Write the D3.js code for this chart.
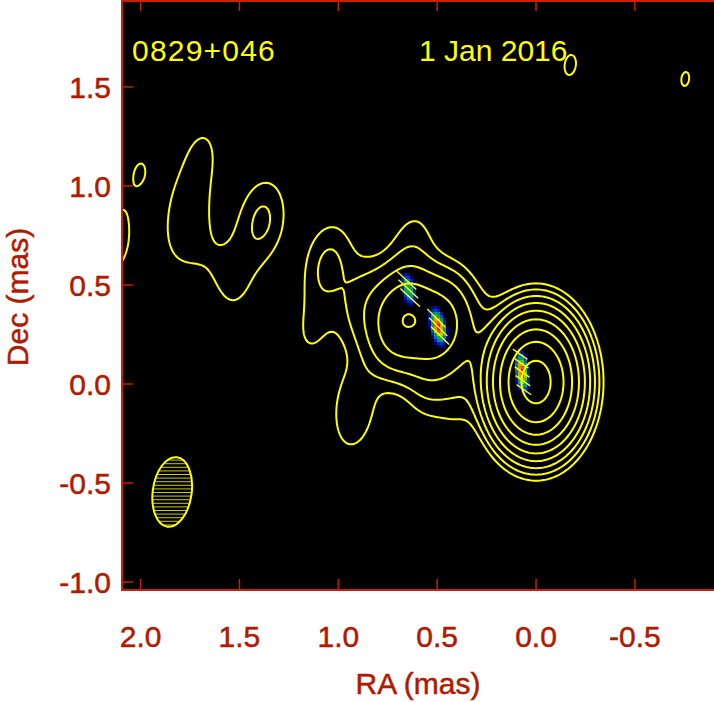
<!DOCTYPE html>
<html>
<head>
<meta charset="utf-8">
<script src="https://cdn.jsdelivr.net/npm/d3@7/dist/d3.min.js"></script>
<style>
  body { margin: 0; background: #fff; }
  svg { display: block; }
  text { font-family: "Liberation Sans", Arial, Helvetica, sans-serif; }
</style>
</head>
<body>
<svg id="chart" width="714" height="702"></svg>
<script>
// ---- data ----
const sourceName = "0829+046";
const epochLabel = "1 Jan 2016";
const xTicks = [2.0, 1.5, 1.0, 0.5, 0.0, -0.5];
const yTicks = [1.5, 1.0, 0.5, 0.0, -0.5, -1.0];

// contour levels (relative units, doubling)
const levels = [1, 2, 4, 8, 16, 32, 64, 128, 256];

// core (RA mas, Dec mas, peak, sigma major / minor in mas)
const coreRA = 0.0, coreDec = 0.010, corePeak = 336, coreSigMaj = 0.146, coreSigMin = 0.100;

// jet + field components, beam-convolved (RA mas, Dec mas, peak)
const compRA   = [0.7375, 0.6566, 0.5554, 0.4542, 0.3075, 0.5352, 0.3834,
                  1.0511, 0.8791, 0.6262, 1.1371, 0.9145, 0.9246,
                  1.6884, 1.7491, 1.7896, 1.6480, 1.5165, 1.3849,
                  2.0020, 2.1437, -0.1730, -0.7547];
const compDec  = [0.3232, 0.3232, 0.3131, 0.2980, 0.2222, 0.0455, -0.0404,
                  0.6010, 0.4091, 0.7020, 0.2626, -0.0556, -0.2071,
                  1.1717, 0.9293, 0.7475, 0.6364, 0.5152, 0.8283,
                  1.0758, 0.7071, 1.6111, 1.5404];
const compPeak = [5.8, 9.3, 5.9, 7.2, 1.8, 1.8, 1.2,
                  2.25, 2.2, 1.3, 1.0, 1.1, 0.9,
                  1.0, 1.0, 1.0, 0.7, 1.1, 2.2,
                  1.01, 1.5, 1.06, 1.029];

// restoring beam (FWHM mas, PA deg)
const beamRA = 1.84, beamDec = -0.545;
const beamMajor = 0.354, beamMinor = 0.197, beamPA = -8;

// polarized intensity components (RA, Dec, peak, sigma major, sigma minor, PA) and EVPA (deg)
const polRA    = [0.646, 0.495, 0.071];
const polDec   = [0.480, 0.289, 0.061];
const polPeak  = [0.55, 1.0, 1.0];
const polMaj   = [0.048, 0.051, 0.056];
const polMin   = [0.020, 0.021, 0.018];
const polPA    = [12, 12, 6];
const polEVPA  = [47, 45, 55];
const polStick = [0.068, 0.065, 0.045];

// ---- layout ----
const L = 122, R = 714, T = 0, B = 590;
const red = "#b01a00", frameRed = "#c82000", yellow = "#ffff00";

const x = d3.scaleLinear().domain([2.094, -0.900]).range([L, R]);
const y = d3.scaleLinear().domain([-1.040, 1.939]).range([B, T]);

const svg = d3.select("#chart");
const defs = svg.append("defs");
defs.append("clipPath").attr("id", "plotclip")
  .append("rect").attr("x", L).attr("y", T).attr("width", R - L).attr("height", B - T);

svg.append("rect").attr("x", L).attr("y", T).attr("width", R - L).attr("height", B - T)
  .attr("fill", "#000");

const plot = svg.append("g").attr("clip-path", "url(#plotclip)");

function gauss(ra, dec, cRA, cDec, peak, sMaj, sMin, pa) {
  const a = pa * Math.PI / 180;
  const dr = ra - cRA, dd = dec - cDec;
  const u = dd * Math.cos(a) + dr * Math.sin(a);
  const v = -dd * Math.sin(a) + dr * Math.cos(a);
  return peak * Math.exp(-(u * u / (2 * sMaj * sMaj) + v * v / (2 * sMin * sMin)));
}

const sigMaj = beamMajor / 2.3548, sigMin = beamMinor / 2.3548;

function stokesI(ra, dec) {
  let s = gauss(ra, dec, coreRA, coreDec, corePeak, coreSigMaj, coreSigMin, 0);
  for (let k = 0; k < compRA.length; k++) {
    s += gauss(ra, dec, compRA[k], compDec[k], compPeak[k], sigMaj, sigMin, beamPA);
  }
  return s;
}

function polI(ra, dec) {
  let s = 0;
  for (let k = 0; k < polRA.length; k++) {
    s += gauss(ra, dec, polRA[k], polDec[k], polPeak[k], polMaj[k], polMin[k], polPA[k]);
  }
  return s;
}

// ---- polarized intensity raster ----
const polColor = d3.scaleLinear()
  .domain([0.1, 0.22, 0.36, 0.5, 0.65, 0.8, 1.0])
  .range(["#000070", "#0028c8", "#0096a0", "#00a040", "#a8d000", "#f08800", "#e00000"])
  .clamp(true);

const cell = 3;
const polCells = [];
for (let py = T; py < B; py += cell) {
  for (let px = L; px < R; px += cell) {
    const v = polI(x.invert(px + cell / 2), y.invert(py + cell / 2));
    if (v > 0.1) polCells.push({ px, py, v });
  }
}
plot.append("g").selectAll("rect").data(polCells).join("rect")
  .attr("x", d => d.px).attr("y", d => d.py)
  .attr("width", cell).attr("height", cell)
  .attr("fill", d => polColor(d.v));

// ---- EVPA sticks ----
const sticks = [];
polRA.forEach((ra0, k) => {
  const a = polPA[k] * Math.PI / 180;
  const chi = polEVPA[k] * Math.PI / 180;
  for (let t = -2; t <= 2; t++) {
    const ra = ra0 + t * 0.045 * Math.sin(a);
    const dec = polDec[k] + t * 0.045 * Math.cos(a);
    if (polI(ra, dec) < 0.25) continue;
    const half = polStick[k];
    sticks.push({
      ra1: ra + half * Math.sin(chi), dec1: dec + half * Math.cos(chi),
      ra2: ra - half * Math.sin(chi), dec2: dec - half * Math.cos(chi)
    });
  }
});
plot.append("g").selectAll("line").data(sticks).join("line")
  .attr("x1", d => x(d.ra1)).attr("y1", d => y(d.dec1))
  .attr("x2", d => x(d.ra2)).attr("y2", d => y(d.dec2))
  .attr("stroke", yellow).attr("stroke-width", 1.4);

// ---- total intensity contours ----
const step = 2, pad = 20;
const gx0 = L - pad, gy0 = T - pad;
const nx = Math.ceil((R - L + 2 * pad) / step) + 1;
const ny = Math.ceil((B - T + 2 * pad) / step) + 1;
const values = new Float64Array(nx * ny);
for (let j = 0; j < ny; j++) {
  const dec = y.invert(gy0 + j * step);
  for (let i = 0; i < nx; i++) {
    values[j * nx + i] = stokesI(x.invert(gx0 + i * step), dec);
  }
}
const contours = d3.contours().size([nx, ny]).thresholds(levels)(values);
const toPixels = d3.geoTransform({
  point: function (gx, gy) {
    this.stream.point(gx0 + (gx - 0.5) * step, gy0 + (gy - 0.5) * step);
  }
});
plot.append("g").selectAll("path").data(contours).join("path")
  .attr("d", d3.geoPath(toPixels))
  .attr("fill", "none")
  .attr("stroke", yellow)
  .attr("stroke-width", 2)
  .attr("stroke-linejoin", "round");

// ---- hatched beam ----
const bx = x(beamRA), by = y(beamDec);
const brx = beamMinor / 2 * (x(0) - x(1)), bry = beamMajor / 2 * (y(0) - y(1));
const beamG = plot.append("g").attr("transform", `translate(${bx},${by}) rotate(${-beamPA})`);
defs.append("clipPath").attr("id", "beamclip")
  .append("ellipse").attr("rx", brx).attr("ry", bry);
const hatch = beamG.append("g").attr("clip-path", "url(#beamclip)")
  .append("g").attr("transform", `rotate(${beamPA})`);
d3.range(-bry - 4, bry + 4, 3.6).forEach(hy => {
  hatch.append("line").attr("x1", -bry - 5).attr("x2", bry + 5)
    .attr("y1", hy).attr("y2", hy)
    .attr("stroke", yellow).attr("stroke-width", 1).attr("stroke-opacity", 0.8);
});
beamG.append("ellipse").attr("rx", brx).attr("ry", bry)
  .attr("fill", "none").attr("stroke", yellow).attr("stroke-width", 2);

// ---- labels inside ----
svg.append("text").attr("x", 132).attr("y", 61).attr("fill", yellow)
  .attr("font-size", 30).attr("letter-spacing", 1.2).text(sourceName);
svg.append("text").attr("x", 419).attr("y", 61).attr("fill", yellow)
  .attr("font-size", 30).text(epochLabel);

// ---- frame and ticks ----
const frame = svg.append("g");
frame.append("rect").attr("x", L).attr("y", T + 1).attr("width", R - L + 2).attr("height", B - T - 1)
  .attr("fill", "none").attr("stroke", frameRed).attr("stroke-width", 2);

const tickLen = 11;
xTicks.forEach(t => {
  frame.append("line").attr("x1", x(t)).attr("x2", x(t)).attr("y1", B).attr("y2", B - tickLen)
    .attr("stroke", frameRed).attr("stroke-width", 1.5);
  frame.append("line").attr("x1", x(t)).attr("x2", x(t)).attr("y1", T).attr("y2", T + tickLen)
    .attr("stroke", frameRed).attr("stroke-width", 1.5);
});
yTicks.forEach(t => {
  frame.append("line").attr("x1", L).attr("x2", L + tickLen).attr("y1", y(t)).attr("y2", y(t))
    .attr("stroke", frameRed).attr("stroke-width", 1.5);
});

svg.append("g").selectAll("text").data(xTicks).join("text")
  .attr("x", d => x(d)).attr("y", 647).attr("text-anchor", "middle")
  .attr("fill", red).attr("stroke", red).attr("stroke-width", 0.5)
  .attr("font-size", 30).text(d => d.toFixed(1));
svg.append("g").selectAll("text").data(yTicks).join("text")
  .attr("x", 111).attr("y", d => y(d)).attr("dy", "0.36em").attr("text-anchor", "end")
  .attr("fill", red).attr("stroke", red).attr("stroke-width", 0.5)
  .attr("font-size", 30).text(d => d.toFixed(1));

svg.append("text").attr("x", 418).attr("y", 694).attr("text-anchor", "middle")
  .attr("fill", red).attr("stroke", red).attr("stroke-width", 0.5)
  .attr("font-size", 30).text("RA (mas)");
svg.append("text").attr("transform", "translate(28,297) rotate(-90)").attr("text-anchor", "middle")
  .attr("fill", red).attr("stroke", red).attr("stroke-width", 0.5)
  .attr("font-size", 30).text("Dec (mas)");
</script>
</body>
</html>
